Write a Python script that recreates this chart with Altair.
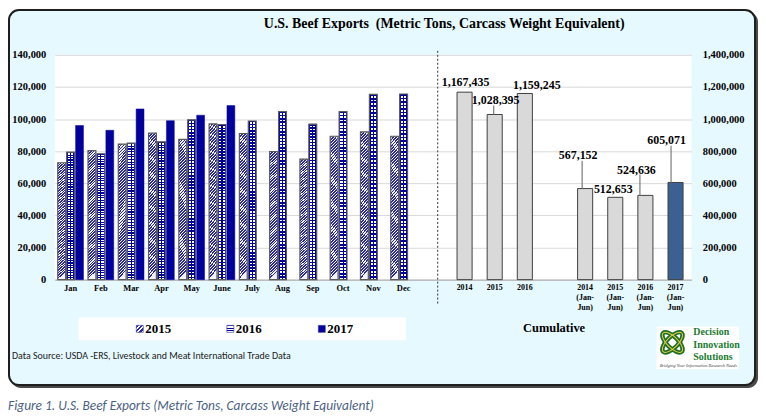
import altair as alt
import pandas as pd

# ---------------- data ----------------
months = ["Jan", "Feb", "Mar", "Apr", "May", "June", "July", "Aug", "Sep", "Oct", "Nov", "Dec"]
years = ["2015", "2016", "2017"]
exp_2015 = [72800, 80400, 84400, 91200, 87300, 97000, 91000, 79800, 75000, 89300, 92000, 89300]
exp_2016 = [79400, 78400, 85000, 85800, 99500, 96600, 98800, 104600, 96800, 104600, 115400, 115600]
exp_2017 = [96000, 93000, 106300, 99000, 102400, 108400]

cum_cats = ["2014", "2015", "2016", "2014|(Jan-|Jun)", "2015|(Jan-|Jun)", "2016|(Jan-|Jun)", "2017|(Jan-|Jun)"]
cum_values = [1167435, 1028395, 1159245, 567152, 512653, 524636, 605071]
cum_text = ["1,167,435", "1,028,395", "1,159,245", "567,152", "512,653", "524,636", "605,071"]

left_ticks = [0, 20000, 40000, 60000, 80000, 100000, 120000, 140000]
right_ticks = [0, 200000, 400000, 600000, 800000, 1000000, 1200000, 1400000]

# ---------------- styling ----------------
SERIF = "Liberation Serif"
NARROW = "Liberation Sans Narrow, Carlito, Roboto, sans-serif"
W_LEFT, W_RIGHT, H = 385, 255, 226
NAVY = "#00009c"
R_MAX = 1400000

# label offsets (pixels) relative to bar tops, and leader-line ends
label_off = [(1, -10), (1, -15), (12, -9), (-7, -34), (-2, -8), (-9, -26), (-9, -43)]
leader_off = {1: (-2, -9), 3: (-6, -28), 5: (-11, -21), 6: (-9, -37)}


def stripes(c1, c2, n, x2, y2, frac=0.5):
    stops = []
    for i in range(n):
        a, b, c = i / n, (i + frac) / n, (i + 1) / n
        stops += [{"offset": a, "color": c1}, {"offset": b, "color": c1},
                  {"offset": b, "color": c2}, {"offset": c, "color": c2}]
    return {"gradient": "linear", "x1": 0, "y1": 0, "x2": x2, "y2": y2, "stops": stops}


def colstripes():
    clear = "rgba(255,255,255,0)"
    pts = [(0, NAVY), (0.16, NAVY), (0.16, clear), (0.43, clear), (0.43, NAVY), (0.57, NAVY),
           (0.57, clear), (0.84, clear), (0.84, NAVY), (1, NAVY)]
    return {"gradient": "linear", "x1": 0, "y1": 0, "x2": 1, "y2": 0,
            "stops": [{"offset": o, "color": c} for o, c in pts]}


hatch15 = stripes("#2a2a9c", "#f2f2ff", 46, 0.06, 1, 0.58)
rows16 = stripes(NAVY, "#ffffff", 52, 0, 1, 0.45)

# ---------------- left panel ----------------
rows = []
for yr, vals in zip(years, [exp_2015, exp_2016, exp_2017]):
    for m, v in zip(months, vals):
        rows.append({"month": m, "year": yr, "value": v})
df_left = pd.DataFrame(rows)

xl = alt.X("month:N", title=None,
           scale=alt.Scale(domain=months, paddingInner=0.15, paddingOuter=0.4, align=0.123),
           axis=alt.Axis(labelAngle=0, ticks=False, labelPadding=4, labelFontSize=8.5,
                         domainColor="#a6a6a6", labelOverlap=False))
xo = alt.XOffset("year:N", scale=alt.Scale(domain=years, paddingInner=0.12))
yl = alt.Y("value:Q", title=None, scale=alt.Scale(domain=[0, 140000], nice=False),
           axis=alt.Axis(values=left_ticks, format=",d", ticks=False, domain=False,
                         labelPadding=9, gridColor="#d9d9d9", labelFontSize=10.5,
                         labelOverlap=False))

base_l = alt.Chart(df_left).encode(x=xl, xOffset=xo, y=yl)
l15 = base_l.transform_filter(alt.datum.year == "2015").mark_bar(
    fill=hatch15, stroke="#5a5a5a", strokeWidth=1.2)
l16a = base_l.transform_filter(alt.datum.year == "2016").mark_bar(fill=rows16)
l16b = base_l.transform_filter(alt.datum.year == "2016").mark_bar(
    fill=colstripes(), stroke="#5a5a5a", strokeWidth=1.2)
l17 = base_l.transform_filter(alt.datum.year == "2017").mark_bar(fill=NAVY, stroke=NAVY, strokeWidth=0.5)
left = alt.layer(l15, l16a, l16b, l17).properties(width=W_LEFT, height=H)

# ---------------- right panel ----------------
df_right = pd.DataFrame({"cat": cum_cats, "value": cum_values, "txt": cum_text})
right_domain = cum_cats[:3] + [" "] + cum_cats[3:]
xr_scale = alt.Scale(domain=right_domain, paddingInner=0.5, paddingOuter=0.458, align=0.7)
xr_axis = alt.Axis(labelAngle=0, ticks=False, labelPadding=4, labelFontSize=8,
                   labelLineHeight=10, labelExpr="split(datum.label, '|')",
                   domainColor="#a6a6a6", labelOverlap=False)
yr_scale = alt.Scale(domain=[0, R_MAX], nice=False)
yr_axis = alt.Axis(orient="right", values=right_ticks, format=",d", ticks=False,
                   domain=False, labelPadding=11, gridColor="#d9d9d9", labelFontSize=10.5,
                   labelOverlap=False)
xr = alt.X("cat:N", title=None, scale=xr_scale, axis=xr_axis)
yr_ = alt.Y("value:Q", title=None, scale=yr_scale, axis=yr_axis)
base_r = alt.Chart(df_right).encode(x=xr, y=yr_)
rbars = base_r.mark_bar(stroke="#404040", strokeWidth=1).encode(
    color=alt.condition(alt.datum.cat == cum_cats[-1], alt.value("#3a6192"), alt.value("#d9d9d9")))

r_layers = [rbars]

# leader lines: thin bars running from the bar top up towards the label
units_per_px = R_MAX / H
for i, c in enumerate(cum_cats):
    if i in leader_off:
        dx, dy = leader_off[i]
        lead_df = pd.DataFrame({"cat": [c], "value": [cum_values[i]],
                                "top": [cum_values[i] - dy * units_per_px]})
        r_layers.append(
            alt.Chart(lead_df)
            .mark_bar(size=1.2, color="#7a7a7a", xOffset=dx / 2)
            .encode(x=xr, y=yr_, y2=alt.Y2("top:Q")))

for i, c in enumerate(cum_cats):
    dx, dy = label_off[i]
    r_layers.append(
        base_r.transform_filter(alt.datum.cat == c)
        .mark_text(dx=dx, dy=dy, font=SERIF, fontWeight="bold", fontSize=12, color="black",
                   baseline="middle")
        .encode(text="txt:N"))

dummy = pd.DataFrame({"a": [0]})
r_layers.append(alt.Chart(dummy).mark_rule(strokeDash=[2, 2], color="#333333", strokeWidth=1)
                .encode(x=alt.value(0), y=alt.value(-4), y2=alt.value(250)))
right = alt.layer(*r_layers).properties(width=W_RIGHT, height=H)

# ---------------- background / decorations panel ----------------
O = 54  # page coordinate of this panel's origin


def P(v):
    return v - O


def box(x1, y1, x2, y2, **kw):
    return alt.Chart(dummy).mark_rect(**kw).encode(
        x=alt.value(P(x1)), x2=alt.value(P(x2)), y=alt.value(P(y1)), y2=alt.value(P(y2)))


def txt(s, x, y, **kw):
    return alt.Chart(dummy).mark_text(**kw).encode(
        x=alt.value(P(x)), y=alt.value(P(y)), text=alt.value(s))


deco = [
    box(11, 11, 762, 389, fill="#4a4a4a", cornerRadius=10),
    box(9, 9, 759, 386, fill="#e6f9fe", stroke="#1e1e1e", strokeWidth=2, cornerRadius=10),
    txt("U.S. Beef Exports\u00a0 (Metric Tons, Carcass Weight Equivalent)", 446.5, 23,
        font=SERIF, fontWeight="bold", fontSize=14, align="center", baseline="middle", color="black"),
    box(79, 318, 408, 341, fill="white"),
]
leg_x = [137, 228, 320]
leg_fill = [stripes("#2a2aa0", "#ffffff", 3, 1, 1, 0.5), stripes(NAVY, "#ffffff", 3, 0, 1, 0.45), NAVY]
for yv, lx, lf in zip(years, leg_x, leg_fill):
    deco.append(box(lx, 326, lx + 7, 333, fill=lf, stroke="#333399", strokeWidth=0.6))
    deco.append(txt(yv, lx + 9, 330, font=SERIF, fontWeight="bold", fontSize=13,
                    align="left", baseline="middle", color="black"))
deco += [
    txt("Cumulative", 557, 329, font=SERIF, fontWeight="bold", fontSize=12.5,
        align="center", baseline="middle", color="black"),
    txt("Data Source: USDA -ERS, Livestock and Meat International Trade Data", 12, 357,
        font=NARROW, fontSize=10, align="left", baseline="middle", color="#1a1a1a"),
    box(660, 327, 743, 370, fill="white"),
]
ellipse = "M-1,0 A1,0.42 0 1,1 1,0 A1,0.42 0 1,1 -1,0 Z"
for ang in [45, 135]:
    deco.append(alt.Chart(dummy).mark_point(shape=ellipse, filled=False, stroke="#1f6e2c",
                                            strokeWidth=4.5, size=700, angle=ang, opacity=1)
                .encode(x=alt.value(P(676)), y=alt.value(P(343))))
for ang in [45, 135]:
    deco.append(alt.Chart(dummy).mark_point(shape=ellipse, filled=False, stroke="#e3cf3f",
                                            strokeWidth=1, size=700, angle=ang, opacity=1)
                .encode(x=alt.value(P(676)), y=alt.value(P(343))))
for s, yy in [("Decision", 333), ("Innovation", 345.5), ("Solutions", 358)]:
    deco.append(txt(s, 697, yy, font=SERIF, fontWeight="bold", fontSize=10, align="left",
                    baseline="middle", color="#217a30"))
deco += [
    txt("Bridging Your Information Research Needs", 702, 366.5, font=SERIF, fontStyle="italic",
        fontSize=4.5, align="center", baseline="middle", color="#444444"),
    txt("Figure 1. U.S. Beef Exports (Metric Tons, Carcass Weight Equivalent)", 8, 407,
        font=NARROW, fontStyle="italic", fontSize=13.5, align="left", baseline="middle",
        color="#4b5f84"),
]
bg = alt.layer(*deco).properties(width=1, height=H)

chart = (
    alt.hconcat(bg, left, right, spacing=0, bounds="flush")
    .resolve_scale(x="independent", y="independent")
    .properties(padding=0, background="white")
    .configure_view(strokeWidth=0, fill="white")
    .configure_axis(labelColor="black", labelFont=SERIF, labelFontWeight="bold")
)

chart.save("out.html", embed_options={"renderer": "svg", "actions": False})
